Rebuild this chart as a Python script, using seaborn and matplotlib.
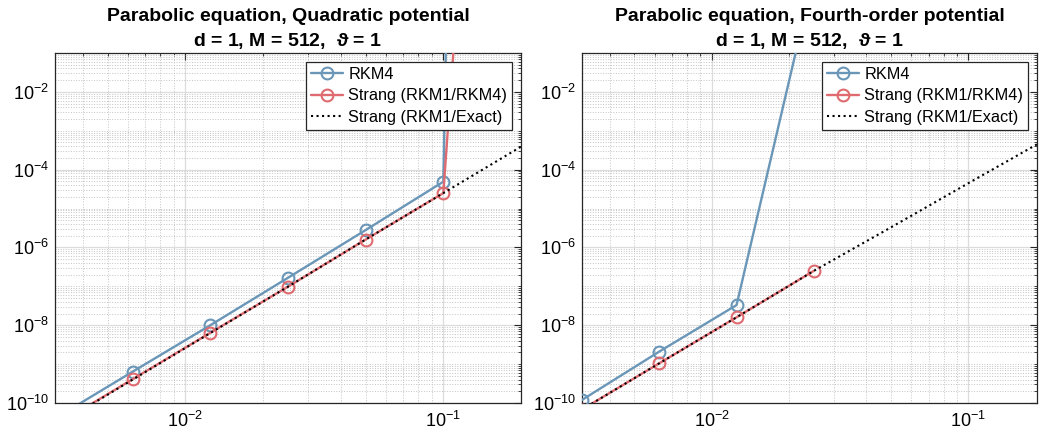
import numpy as np
import pandas as pd
import matplotlib
matplotlib.use("Agg")
import matplotlib.pyplot as plt
import seaborn as sns
from matplotlib.ticker import LogLocator, LogFormatterMathtext, NullFormatter

# ---------------- data ----------------
tau = [0.2, 0.1, 0.05, 0.025, 0.0125, 0.00625, 0.003125]

# Quadratic potential
rkm4_quad = [1e100, 4.9e-5, 2.8e-6, 1.66e-7, 1.0e-8, 6.4e-10, 4.0e-11]
strang_rk_quad = [2.5e23, 2.5e-5, 1.6e-6, 9.8e-8, 6.4e-9, 4.1e-10, 2.6e-11]
strang_ex_quad = [3.9e-4, 2.5e-5, 1.6e-6, 9.8e-8, 6.3e-9, 4.0e-10, 2.5e-11]

# Fourth-order potential
rkm4_four = [np.nan, np.nan, np.nan, 10.0, 3.3e-8, 2.1e-9, 1.2e-10]
strang_rk_four = [np.nan, np.nan, np.nan, 2.5e-7, 1.6e-8, 1.05e-9, 6.8e-11]
strang_ex_four = [6.0e-4, 4.5e-5, 3.3e-6, 2.5e-7, 1.6e-8, 1.05e-9, 6.8e-11]

titles = ["Parabolic equation, Quadratic potential\nd = 1, M = 512,  $\\vartheta$ = 1",
          "Parabolic equation, Fourth-order potential\nd = 1, M = 512,  $\\vartheta$ = 1"]
labels = ["RKM4", "Strang (RKM1/RKM4)", "Strang (RKM1/Exact)"]
xlims = [(0.003125, 0.2), (0.003125, 0.185)]

# ---------------- style ----------------
sns.set_style("white")
plt.rcParams["font.family"] = ["Liberation Sans", "DejaVu Sans"]
plt.rcParams["mathtext.fontset"] = "stix"
plt.rcParams["mathtext.default"] = "regular"
plt.rcParams["text.color"] = "black"
plt.rcParams["axes.titlecolor"] = "black"

BLUE = "#6a96b8"
RED = "#df6b70"

fig = plt.figure(figsize=(10.43, 4.38), dpi=100)
ax1 = fig.add_axes([55 / 1043, 35 / 438, (521 - 55) / 1043, (403 - 53) / 438])
ax2 = fig.add_axes([582 / 1043, 35 / 438, (1037 - 582) / 1043, (403 - 53) / 438])

panels = [
    (ax1, rkm4_quad, strang_rk_quad, strang_ex_quad, titles[0], xlims[0]),
    (ax2, rkm4_four, strang_rk_four, strang_ex_four, titles[1], xlims[1]),
]

for ax, r4, srk, sex, title, xl in panels:
    ax.set_xscale("log")
    ax.set_yscale("log")
    df = pd.DataFrame({"tau": tau, "rkm4": r4, "srk": srk, "sex": sex})
    sns.lineplot(data=df, x="tau", y="rkm4", ax=ax, color=BLUE, lw=1.7,
                 marker="o", markersize=8.5, markerfacecolor="none",
                 markeredgecolor=BLUE, markeredgewidth=1.5, label=labels[0],
                 estimator=None, sort=True, zorder=3)
    sns.lineplot(data=df, x="tau", y="srk", ax=ax, color=RED, lw=1.7,
                 marker="o", markersize=8.5, markerfacecolor="none",
                 markeredgecolor=RED, markeredgewidth=1.5, label=labels[1],
                 estimator=None, sort=True, zorder=3)
    sns.lineplot(data=df, x="tau", y="sex", ax=ax, color="black", lw=1.5,
                 linestyle=":", label=labels[2], estimator=None, sort=True,
                 zorder=4)

    ax.set_xlim(*xl)
    ax.set_ylim(1e-10, 1e-1)
    ax.set_xlabel(None)
    ax.set_ylabel(None)

    ax.xaxis.set_major_locator(LogLocator(base=10, numticks=20))
    ax.xaxis.set_minor_locator(LogLocator(base=10, subs=np.arange(2, 10), numticks=50))
    ax.yaxis.set_major_locator(LogLocator(base=100, numticks=20))
    ax.yaxis.set_minor_locator(LogLocator(base=10, subs=np.arange(1, 10), numticks=100))
    ax.xaxis.set_major_formatter(LogFormatterMathtext(base=10))
    ax.yaxis.set_major_formatter(LogFormatterMathtext(base=10))
    ax.xaxis.set_minor_formatter(NullFormatter())
    ax.yaxis.set_minor_formatter(NullFormatter())

    ax.grid(True, which="major", color="#dcdcdc", linestyle="-", linewidth=0.9, zorder=0)
    ax.grid(True, which="minor", color="#c4c4c4", linestyle=":", linewidth=0.7, zorder=0)
    ax.set_axisbelow(True)

    ax.tick_params(which="both", direction="in", top=True, right=True,
                   colors="#262626", labelcolor="black", labelsize=13)
    ax.tick_params(which="major", length=5, width=0.8)
    ax.tick_params(which="minor", length=2.5, width=0.6)
    ax.tick_params(axis="x", pad=6)
    ax.tick_params(axis="y", pad=4)
    for s in ax.spines.values():
        s.set_color("#262626")
        s.set_linewidth(0.9)
        s.set_visible(True)

    ax.set_title(title, fontsize=14, fontweight="bold", pad=5, linespacing=1.38)

    leg = ax.legend(loc="upper right", fontsize=11.7, frameon=True, fancybox=False,
                    edgecolor="#262626", framealpha=1, borderpad=0.3,
                    handlelength=2.0, handletextpad=0.3, labelspacing=0.4,
                    borderaxespad=0.55)
    leg.get_frame().set_linewidth(0.9)

fig.savefig("out.png", dpi=100)
